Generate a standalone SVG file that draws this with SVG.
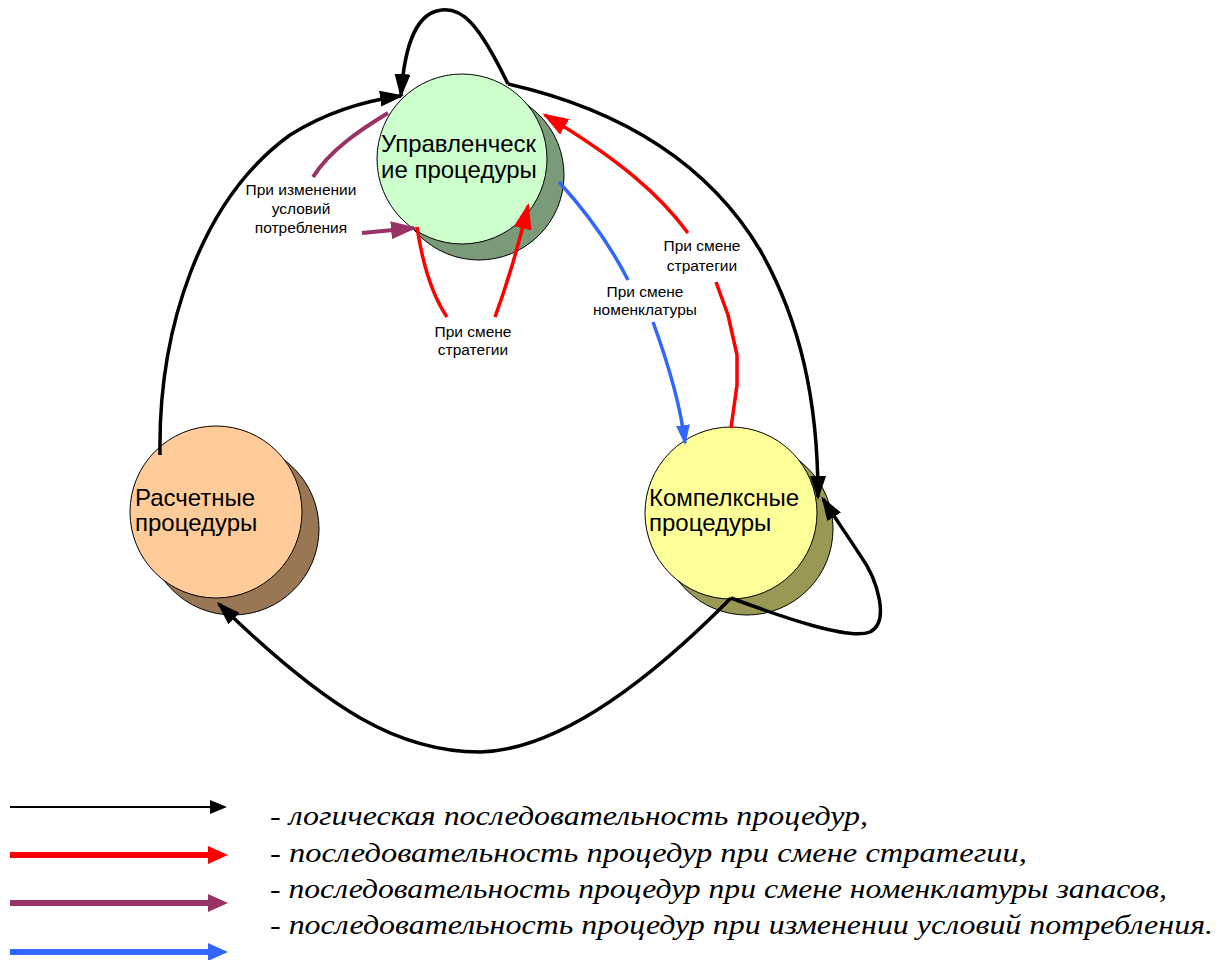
<svg xmlns="http://www.w3.org/2000/svg" width="1231" height="960" viewBox="0 0 1231 960">
<style>
.node-back{stroke:#000;stroke-width:1}
.node-front{stroke:#000;stroke-width:1}
.lbl{font-family:"Liberation Sans",Arial,sans-serif;font-size:24px;fill:#000}
.sm{font-family:"Liberation Sans",Arial,sans-serif;font-size:15.5px;fill:#000;text-anchor:middle}
.c{fill:none;stroke-width:3.5;stroke-linejoin:round}
.blk{stroke:#000}
.red{stroke:#FF0000}
.pur{stroke:#993366;stroke-width:4}
.blu{stroke:#3366FF}
.leg{font-family:"Liberation Serif","Times New Roman",serif;font-style:italic;font-size:28px;fill:#000}
</style>
<defs>
<marker id="mb" markerUnits="userSpaceOnUse" markerWidth="24" markerHeight="16" viewBox="0 0 24 16" refX="21" refY="8" orient="auto"><path d="M0,0 L24,8 L0,16 z" fill="#000"/></marker>
<marker id="mr" markerUnits="userSpaceOnUse" markerWidth="26" markerHeight="18" viewBox="0 0 26 18" refX="23" refY="9" orient="auto"><path d="M0,0 L26,9 L0,18 z" fill="#FF0000"/></marker>
<marker id="mp" markerUnits="userSpaceOnUse" markerWidth="26" markerHeight="18" viewBox="0 0 26 18" refX="23" refY="9" orient="auto"><path d="M0,0 L26,9 L0,18 z" fill="#993366"/></marker>
<marker id="mu" markerUnits="userSpaceOnUse" markerWidth="20" markerHeight="14" viewBox="0 0 20 14" refX="18" refY="7" orient="auto"><path d="M0,0 L20,7 L0,14 z" fill="#3366FF"/></marker>
</defs>

<g id="node-upr">
<circle class="node-back" cx="479" cy="175" r="85" fill="#7A9A7A"/>
<circle class="node-front" cx="462" cy="159" r="85" fill="#CCFFCC"/>
<text class="lbl" x="381" y="152">Управленческ</text>
<text class="lbl" x="381" y="178">ие процедуры</text>
</g>

<g id="node-rasch">
<circle class="node-back" cx="233" cy="529" r="86" fill="#997755"/>
<circle class="node-front" cx="216" cy="512" r="86" fill="#FFCC99"/>
<text class="lbl" x="135" y="506">Расчетные</text>
<text class="lbl" x="135" y="531">процедуры</text>
</g>

<g id="node-kompl">
<circle class="node-back" cx="747" cy="529" r="86" fill="#999955"/>
<circle class="node-front" cx="731" cy="513" r="86" fill="#FFFF99"/>
<text class="lbl" x="649" y="506">Компелксные</text>
<text class="lbl" x="649" y="531">процедуры</text>
</g>

<g id="connectors">
<path class="c blk" d="M508,84 C478,22 462,8 442,10 C418,12 405,40 401,95" marker-end="url(#mb)"/>
<path class="c blk" d="M508,84 C600,105 700,150 760,250 C800,320 818,400 818,497" marker-end="url(#mb)"/>
<path class="c blk" d="M731,598 C790,620 850,640 870,632 C890,622 878,580 860,555 C845,532 833,515 823,499" marker-end="url(#mb)"/>
<path class="c blk" d="M731,598 C650,680 560,750 480,752 C400,752 330,712 219,604" marker-end="url(#mb)"/>
<path class="c blk" d="M160,455 C158,330 200,200 290,135 C330,110 370,100 401,96" marker-end="url(#mb)"/>

<path class="c pur" d="M388,113 C360,130 330,150 313,177"/>
<path class="c pur" d="M362,233 L414,228" marker-end="url(#mp)"/>

<path class="c red" d="M417,227 C422,260 432,295 447,317"/>
<path class="c red" d="M495,317 C505,290 515,260 528,206" marker-end="url(#mr)"/>
<path class="c red" d="M731,428 L737,385 L737,355 L728,315 L716,282"/>
<path class="c red" d="M688,233 C660,195 620,160 545,115" marker-end="url(#mr)"/>

<path class="c blu" d="M559,182 C580,205 605,235 628,280"/>
<path class="c blu" d="M653,322 C665,355 680,400 685,443" marker-end="url(#mu)"/>
</g>

<g id="labels">
<text class="sm" x="301" y="195">При изменении</text>
<text class="sm" x="301" y="214">условий</text>
<text class="sm" x="301" y="233">потребления</text>
<text class="sm" x="473" y="337">При смене</text>
<text class="sm" x="473" y="355">стратегии</text>
<text class="sm" x="645" y="297">При смене</text>
<text class="sm" x="645" y="315">номенклатуры</text>
<text class="sm" x="702" y="251">При смене</text>
<text class="sm" x="702" y="271">стратегии</text>
</g>

<g id="legend">
<line x1="10" y1="807" x2="212" y2="807" stroke="#000" stroke-width="2"/>
<path d="M210,800 L227,807 L210,814 z" fill="#000"/>
<line x1="10" y1="855" x2="210" y2="855" stroke="#FF0000" stroke-width="6"/>
<path d="M208,846 L228,855 L208,864 z" fill="#FF0000"/>
<line x1="10" y1="903" x2="210" y2="903" stroke="#993366" stroke-width="6"/>
<path d="M208,894 L228,903 L208,912 z" fill="#993366"/>
<line x1="10" y1="952" x2="210" y2="952" stroke="#3366FF" stroke-width="6"/>
<path d="M208,943 L228,952 L208,961 z" fill="#3366FF"/>
<text class="leg" x="270" y="825" textLength="598" lengthAdjust="spacingAndGlyphs">- логическая последовательность процедур,</text>
<text class="leg" x="270" y="862" textLength="757" lengthAdjust="spacingAndGlyphs">- последовательность процедур при смене стратегии,</text>
<text class="leg" x="270" y="898" textLength="897" lengthAdjust="spacingAndGlyphs">- последовательность процедур при смене номенклатуры запасов,</text>
<text class="leg" x="270" y="934" textLength="943" lengthAdjust="spacingAndGlyphs">- последовательность процедур при изменении условий потребления.</text>
</g>
</svg>
